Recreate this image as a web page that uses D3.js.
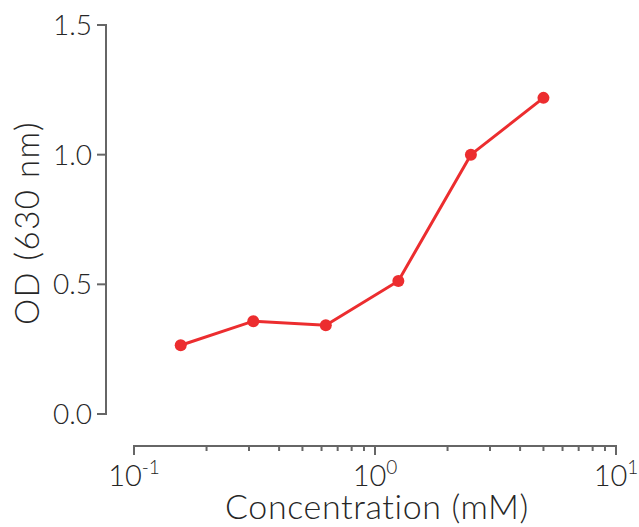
<!DOCTYPE html>
<html>
<head>
<meta charset="utf-8">
<script src="https://cdn.jsdelivr.net/npm/d3@7"></script>
<style>
  body { margin: 0; background: #fff; }
  text { font-family: "Lato Light", Lato, "Open Sans", sans-serif; font-weight: 300; fill: #262626; }
</style>
</head>
<body>
<svg id="chart" width="639" height="527"></svg>
<script>
const concentrations = [0.15625, 0.3125, 0.625, 1.25, 2.5, 5];
const odValues = [0.265, 0.358, 0.342, 0.513, 1.0, 1.219];
const yTicks = [0, 0.5, 1.0, 1.5];
const xMajorExps = [-1, 0, 1];

const svg = d3.select('#chart');
const red = '#ec2d2f';
const axisColor = '#666';

const x = d3.scaleLog().domain([0.1, 10]).range([134, 616]);
const y = d3.scaleLinear().domain([0, 1.5]).range([414, 25]);

// y axis
const yAxis = svg.append('g').attr('transform', 'translate(106,0)');
yAxis.append('line')
  .attr('x1', 0).attr('x2', 0)
  .attr('y1', y(0)).attr('y2', y(1.5))
  .attr('stroke', axisColor).attr('stroke-width', 2);
yTicks.forEach((t) => {
  yAxis.append('line')
    .attr('x1', -9).attr('x2', 1)
    .attr('y1', y(t)).attr('y2', y(t))
    .attr('stroke', axisColor).attr('stroke-width', 2);
  yAxis.append('text')
    .attr('x', -14).attr('y', y(t))
    .attr('dy', '0.36em')
    .attr('text-anchor', 'end')
    .style('font-size', '28px')
    .text(d3.format('.1f')(t));
});

// x axis
const xAxis = svg.append('g').attr('transform', 'translate(0,446)');
xAxis.append('line')
  .attr('x1', x(0.1) - 1).attr('x2', x(10) + 1)
  .attr('y1', 0).attr('y2', 0)
  .attr('stroke', axisColor).attr('stroke-width', 2);
x.ticks().forEach((t) => {
  const major = xMajorExps.some((e) => Math.abs(Math.pow(10, e) - t) < 1e-9);
  xAxis.append('line')
    .attr('x1', x(t)).attr('x2', x(t))
    .attr('y1', 0).attr('y2', major ? 9 : 5)
    .attr('stroke', axisColor).attr('stroke-width', 2);
});
xMajorExps.forEach((e) => {
  const label = xAxis.append('text')
    .attr('x', x(Math.pow(10, e)))
    .attr('y', 40)
    .attr('text-anchor', 'middle')
    .style('font-size', '29px');
  label.append('tspan').text('10');
  label.append('tspan')
    .attr('dy', -12)
    .style('font-size', '19px')
    .text(e < 0 ? '-' + Math.abs(e) : String(e));
});

// axis titles
svg.append('text')
  .attr('x', 377).attr('y', 519)
  .attr('text-anchor', 'middle')
  .style('font-size', '34px')
  .style('letter-spacing', '0.6px')
  .text('Concentration (mM)');

svg.append('text')
  .attr('transform', 'translate(39,223) rotate(-90)')
  .attr('text-anchor', 'middle')
  .style('font-size', '33px')
  .style('letter-spacing', '1.5px')
  .text('OD (630 nm)');

// data
const pts = concentrations.map((c, i) => [c, odValues[i]]);
svg.append('path')
  .datum(pts)
  .attr('fill', 'none')
  .attr('stroke', red)
  .attr('stroke-width', 3)
  .attr('d', d3.line().x((d) => x(d[0])).y((d) => y(d[1])));

svg.append('g')
  .selectAll('circle')
  .data(pts)
  .enter().append('circle')
    .attr('cx', (d) => x(d[0]))
    .attr('cy', (d) => y(d[1]))
    .attr('r', 6)
    .attr('fill', red);
</script>
</body>
</html>
